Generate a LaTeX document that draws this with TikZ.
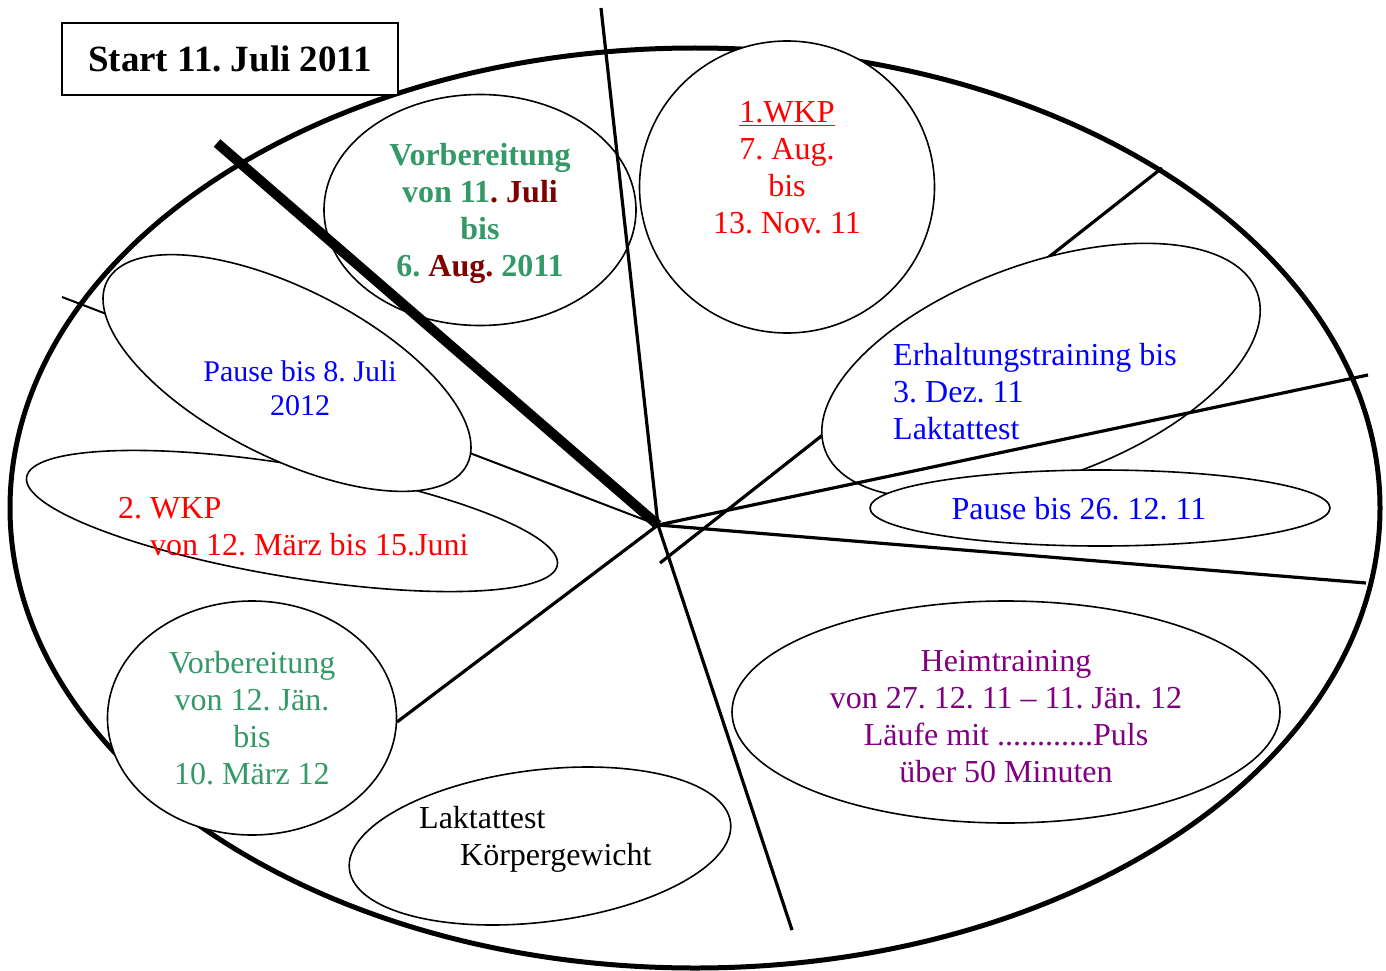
\documentclass[tikz,border=0pt]{standalone}
\usepackage{fontspec}
\setmainfont{Liberation Serif}
\usetikzlibrary{shapes.geometric}
\definecolor{sgreen}{HTML}{339966}
\definecolor{dred}{HTML}{800000}
\definecolor{purp}{HTML}{800080}
\frenchspacing
\begin{document}
\begin{tikzpicture}[x=1pt,y=-1pt,
  oval/.style={ellipse, draw, line width=1.6pt, fill=white, inner sep=0pt},
  txt/.style={font=\fontsize{32}{37}\selectfont, align=center, inner sep=0pt},
  spoke/.style={line width=3.2pt},
  thinspoke/.style={line width=2pt},
]
\useasboundingbox (0,0) rectangle (1386,971);
% outer ring
\node[ellipse, draw, line width=5pt, minimum width=1370, minimum height=920, inner sep=0pt] (rim) at (695,508) {};
% coordinates
\coordinate (hub) at (658,525);
\coordinate (pA) at (62,297);
\coordinate (pB) at (660,563);
\coordinate (pC) at (1162,168);
\coordinate (pD) at (397,722);
\coordinate (pE) at (217,143);
\coordinate (pF) at (601,8);
\coordinate (pG) at (1368,375);
\coordinate (pH) at (1366,583);
\coordinate (pI) at (792,930);
% lines hidden below ovals
\draw[thinspoke] (pA) -- (hub);
\draw[spoke] (pB) -- (pC);
\draw[spoke] (hub) -- (pD);
% ovals
\node[oval, minimum width=538, minimum height=112, rotate=-9.4] (wkp2) at (292,521) {};
\node[oval, minimum width=404, minimum height=168, rotate=-27] (p8) at (287,373) {};
\node[oval, minimum width=460, minimum height=214, rotate=20] (erh) at (1041,371) {};
\node[oval, minimum width=460, minimum height=76] (p26) at (1100,508) {};
\node[oval, minimum width=295, minimum height=292] (wkp1) at (787,187) {};
\node[oval, minimum width=312, minimum height=231] (vtop) at (480,210) {};
\node[oval, minimum width=289, minimum height=234] (jan) at (252,718) {};
\node[oval, minimum width=384, minimum height=152, rotate=7] (lak) at (540,846) {};
\node[oval, minimum width=548, minimum height=222] (heim) at (1006,712) {};
% lines on top
\draw[line width=10pt] (pE) -- (hub);
\draw[spoke] (pF) -- (hub);
\draw[spoke] (hub) -- (pG);
\draw[spoke] (hub) -- (pH);
\draw[spoke] (hub) -- (pI);
% start box
\node[draw, line width=1.8pt, fill=white, minimum width=336, minimum height=72, inner sep=0pt,
  font=\fontsize{37}{40}\selectfont\bfseries] (start) at (230,59) {Start 11. Juli 2011};
% texts
\node[txt, text=sgreen, font=\fontsize{32}{37}\selectfont\bfseries] (tvtop) at (480,213)
  {Vorbereitung\\von 11{\color{dred}. Juli}\\bis\\6. {\color{dred}Aug.} 2011};
\node[txt, text=red] (twkp1) at (787,168) {\underline{1.WKP}\\7. Aug.\\bis\\13. Nov. 11};
\node[txt, text=blue, align=left, anchor=west] (terh) at (893,392)
  {Erhaltungstraining bis\\3. Dez. 11\\Laktattest};
\node[txt, text=blue] (tp26) at (1079,509) {Pause bis 26. 12. 11};
\node[txt, text=blue, font=\fontsize{30}{34}\selectfont] (tp8) at (300,388) {Pause bis 8. Juli\\2012};
\node[txt, text=red, align=left, anchor=west] (twkp2) at (118,527)
  {2. WKP\\\hspace*{32pt}von 12. März bis 15.Juni};
\node[txt, text=sgreen] (tjan) at (252,718) {Vorbereitung\\von 12. Jän.\\bis\\10. März 12};
\node[txt, align=left, anchor=west] (tlak) at (419,839) {Laktattest\\\hspace*{41pt}Körpergewicht};
\node[txt, text=purp] (theim) at (1006,717)
  {Heimtraining\\von 27. 12. 11 -- 11. Jän. 12\\Läufe mit ............Puls\\über 50 Minuten};
\end{tikzpicture}
\end{document}
